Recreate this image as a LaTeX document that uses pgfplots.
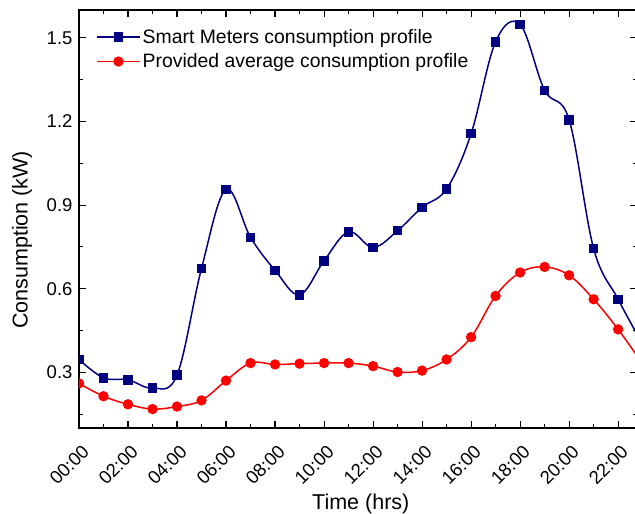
\documentclass[border=0pt]{standalone}
\usepackage{pgfplots}
\pgfplotsset{compat=1.18}
\usepackage{fontspec}
\setmainfont{Liberation Sans}
\definecolor{navyb}{RGB}{0,0,128}
\definecolor{redc}{RGB}{255,0,0}
\pgfplotstableread{
h sm avg
0 0.346 0.260
1 0.280 0.214
2 0.273 0.185
3 0.243 0.168
4 0.290 0.177
5 0.673 0.199
6 0.956 0.270
7 0.784 0.333
8 0.666 0.328
9 0.578 0.331
10 0.700 0.333
11 0.804 0.333
12 0.748 0.322
13 0.808 0.301
14 0.892 0.306
15 0.958 0.346
16 1.156 0.426
17 1.486 0.574
18 1.548 0.658
19 1.312 0.678
20 1.206 0.648
21 0.744 0.562
22 0.562 0.454
23 0.400 0.330
}\datatab
\begin{document}
\begin{tikzpicture}
\begin{axis}[name=ax, at={(0,0)}, anchor=south west,
  scale only axis, width=558pt, height=418pt,
  xmin=0, xmax=22.77, ymin=0.1, ymax=1.6,
  xtick={0,2,...,22},
  xticklabels={00:00,02:00,04:00,06:00,08:00,10:00,12:00,14:00,16:00,18:00,20:00,22:00},
  minor xtick={1,3,...,23},
  ytick={0.3,0.6,0.9,1.2,1.5},
  minor ytick={0.15,0.45,0.75,1.05,1.35},
  yticklabel style={/pgf/number format/fixed, /pgf/number format/fixed zerofill, /pgf/number format/precision=1},
  /pgf/number format/assume math mode=true,
  tick align=inside, major tick length=7pt, minor tick length=4pt,
  axis line style={line width=1.1pt}, every tick/.style={line width=1.1pt, black},
  ticklabel style={font=\fontsize{18.5}{22}\selectfont},
  xticklabel style={yshift=-11pt, xshift=2pt, rotate=45, anchor=north east},
  yticklabel style={xshift=-3pt},
  xlabel={Time (hrs)}, ylabel={Consumption (kW)},
  label style={font=\fontsize{21.5}{25}\selectfont},
  xlabel style={at={(axis description cs:0.505,-0.182)}, anchor=center},
  ylabel style={at={(axis description cs:-0.102,0.45)}, anchor=center, rotate=0},
  clip marker paths=true,
  legend cell align=left,
  legend style={at={(axis description cs:0,1)}, anchor=north west, xshift=14pt, yshift=-15pt,
    draw=none, fill=none, font=\fontsize{19.4}{23}\selectfont, row sep=5pt},
  legend image code/.code={\draw[mark repeat=2, mark phase=2] plot coordinates {(0pt,0pt) (21.5pt,0pt) (43pt,0pt)};},
]
\addplot[navyb, line width=1.5pt, smooth, tension=0.6, mark=square*, mark size=4pt, mark options={solid, fill=navyb}] table[x=h, y=sm] {\datatab};
\addlegendentry{Smart Meters consumption profile}
\addplot[redc, line width=1.5pt, smooth, tension=0.6, mark=*, mark size=4.4pt, mark options={solid, fill=redc}] table[x=h, y=avg] {\datatab};
\addlegendentry{Provided average consumption profile}
\end{axis}
\pgfresetboundingbox
\path[use as bounding box] ([xshift=-79pt,yshift=-86pt]ax.south west) rectangle ([xshift=-2pt,yshift=10pt]ax.north east);
\end{tikzpicture}
\end{document}
